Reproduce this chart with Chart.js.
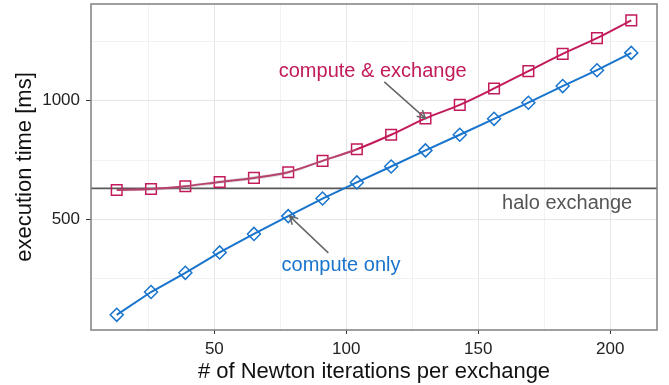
<!DOCTYPE html>
<html>
<head>
<meta charset="utf-8">
<script src="https://cdn.jsdelivr.net/npm/chart.js@4"></script>
<style>
  html, body { margin: 0; padding: 0; background: #fff; }
  #wrap { width: 669px; height: 385px; }
</style>
</head>
<body>
<div id="wrap"><canvas id="chart"></canvas></div>
<script>
// iterations per exchange
const iterations = [13, 26, 39, 52, 65, 78, 91, 104, 117, 130, 143, 156, 169, 182, 195, 208];
// execution time [ms]
const computeExchange = [624, 628, 640, 658, 675, 699, 747, 796, 857, 926, 983, 1052, 1125, 1198, 1264, 1339];
const computeOnly = [98, 194, 275, 361, 439, 514, 588, 656, 723, 791, 857, 924, 992, 1062, 1129, 1202];
const haloExchange = 631;

// grey smoothing band around the low end of compute & exchange
const bandIterations = [13, 26, 39, 52, 65, 78, 91, 104];
const bandUpper = [628, 633, 645, 665, 683, 706, 752, 799];
const bandLower = [619, 621, 632, 650, 667, 692, 742, 793];

const xGrid = [25, 50, 75, 100, 125, 150, 175, 200];
const xLabels = [50, 100, 150, 200];
const yGrid = [250, 500, 750, 1000, 1250];
const yLabels = [500, 1000];

const RED = '#c21a5a';
const BLUE = '#1874cd';
const FONT = '"Liberation Sans", Arial, sans-serif';

const toPoints = (xs, ys) => xs.map((x, i) => ({ x: x, y: ys[i] }));

function noPadding(s) {
    s.paddingTop = 0;
    s.paddingBottom = 0;
    s.paddingLeft = 0;
    s.paddingRight = 0;
}

function arrow(ctx, x1, y1, x2, y2) {
    const ang = Math.atan2(y2 - y1, x2 - x1);
    const len = 9;
    ctx.beginPath();
    ctx.moveTo(x1, y1);
    ctx.lineTo(x2, y2);
    ctx.moveTo(x2 - len * Math.cos(ang - 0.5), y2 - len * Math.sin(ang - 0.5));
    ctx.lineTo(x2, y2);
    ctx.lineTo(x2 - len * Math.cos(ang + 0.5), y2 - len * Math.sin(ang + 0.5));
    ctx.stroke();
}

const decorations = {
    id: 'decorations',
    beforeDatasetsDraw(chart) {
        const { ctx, chartArea, scales } = chart;
        const y = scales.y.getPixelForValue(haloExchange);
        ctx.save();
        ctx.strokeStyle = '#5a5a5a';
        ctx.lineWidth = 1.6;
        ctx.beginPath();
        ctx.moveTo(chartArea.left, y);
        ctx.lineTo(chartArea.right, y);
        ctx.stroke();
        ctx.restore();
    },
    afterDatasetsDraw(chart) {
        const { ctx, chartArea, scales } = chart;
        const px = v => scales.x.getPixelForValue(v);
        const py = v => scales.y.getPixelForValue(v);
        ctx.save();
        ctx.font = '20px ' + FONT;
        ctx.textAlign = 'center';
        ctx.textBaseline = 'middle';
        ctx.fillStyle = RED;
        ctx.fillText('compute & exchange', px(110), py(1122));
        ctx.fillStyle = BLUE;
        ctx.fillText('compute only', px(98), py(307));
        ctx.fillStyle = '#555555';
        ctx.fillText('halo exchange', px(183.7), py(567));

        ctx.strokeStyle = '#666666';
        ctx.lineWidth = 1.5;
        arrow(ctx, px(114.4), py(1080), px(130), py(926));
        arrow(ctx, px(93.2), py(359), px(78.5), py(514));

        ctx.strokeStyle = '#808080';
        ctx.lineWidth = 1.5;
        ctx.strokeRect(chartArea.left, chartArea.top, chartArea.right - chartArea.left, chartArea.bottom - chartArea.top);
        ctx.restore();
    }
};

new Chart(document.getElementById('chart'), {
    type: 'scatter',
    data: {
        datasets: [
            {
                label: 'band upper',
                data: toPoints(bandIterations, bandUpper),
                showLine: true,
                borderWidth: 0,
                borderColor: 'rgba(0,0,0,0)',
                backgroundColor: 'rgba(160,160,160,0.3)',
                fill: '+1',
                tension: 0.4,
                pointRadius: 0
            },
            {
                label: 'band lower',
                data: toPoints(bandIterations, bandLower),
                showLine: true,
                borderWidth: 0,
                borderColor: 'rgba(0,0,0,0)',
                tension: 0.4,
                pointRadius: 0
            },
            {
                label: 'compute & exchange',
                data: toPoints(iterations, computeExchange),
                showLine: true,
                borderColor: RED,
                borderWidth: 2,
                tension: 0.4,
                cubicInterpolationMode: 'monotone',
                pointStyle: 'rect',
                pointRadius: 7.5,
                pointBorderWidth: 1.5,
                pointBorderColor: RED,
                pointBackgroundColor: 'rgba(0,0,0,0)'
            },
            {
                label: 'compute only',
                data: toPoints(iterations, computeOnly),
                showLine: true,
                borderColor: BLUE,
                borderWidth: 2,
                tension: 0,
                pointStyle: 'rectRot',
                pointRadius: 6.5,
                pointBorderWidth: 1.5,
                pointBorderColor: BLUE,
                pointBackgroundColor: 'rgba(0,0,0,0)'
            }
        ]
    },
    options: {
        responsive: true,
        maintainAspectRatio: false,
        animation: false,
        layout: { autoPadding: false, padding: { top: 4, right: 12, left: 0, bottom: 0 } },
        plugins: { legend: { display: false }, tooltip: { enabled: false } },
        scales: {
            x: {
                type: 'linear',
                min: 3.25,
                max: 217.75,
                afterBuildTicks: s => { s.ticks = xGrid.map(v => ({ value: v })); },
                afterFit: s => { s.height = 55; noPadding(s); },
                border: { display: false },
                grid: {
                    color: c => xLabels.includes(c.tick.value) ? '#e6e6e6' : '#f2f2f2',
                    tickColor: c => xLabels.includes(c.tick.value) ? '#333333' : 'rgba(0,0,0,0)',
                    tickLength: 4,
                    lineWidth: 1
                },
                ticks: {
                    autoSkip: false,
                    maxRotation: 0,
                    padding: 5,
                    color: '#222222',
                    font: { family: FONT, size: 17 },
                    callback: v => xLabels.includes(v) ? String(v) : ''
                },
                title: {
                    display: true,
                    text: '# of Newton iterations per exchange',
                    color: '#111111',
                    font: { family: FONT, size: 22 },
                    padding: { top: 0, bottom: 0 }
                }
            },
            y: {
                type: 'linear',
                min: 34,
                max: 1408,
                afterBuildTicks: s => { s.ticks = yGrid.map(v => ({ value: v })); },
                afterFit: s => { s.width = 91; noPadding(s); },
                border: { display: false },
                grid: {
                    color: c => yLabels.includes(c.tick.value) ? '#e6e6e6' : '#f2f2f2',
                    tickColor: c => yLabels.includes(c.tick.value) ? '#333333' : 'rgba(0,0,0,0)',
                    tickLength: 5,
                    lineWidth: 1
                },
                ticks: {
                    autoSkip: false,
                    padding: 6,
                    color: '#222222',
                    font: { family: FONT, size: 17 },
                    callback: v => yLabels.includes(v) ? String(v) : ''
                },
                title: {
                    display: true,
                    text: 'execution time [ms]',
                    color: '#111111',
                    font: { family: FONT, size: 22 },
                    padding: { top: 12, bottom: 0 }
                }
            }
        }
    },
    plugins: [decorations]
});
</script>
</body>
</html>
